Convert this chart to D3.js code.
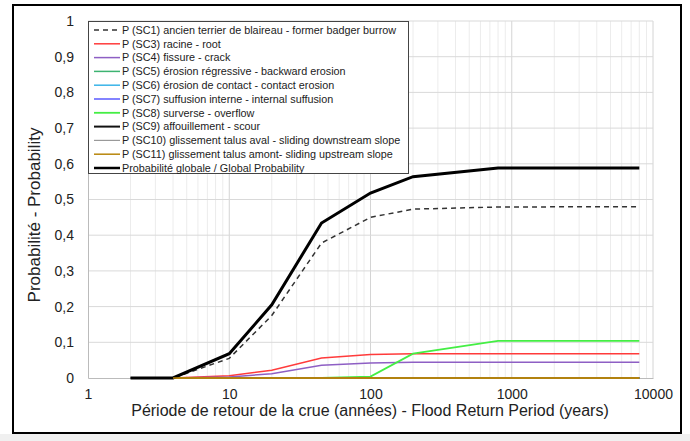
<html>
<head>
<meta charset="utf-8">
<script src="https://d3js.org/d3.v7.min.js"></script>
<style>
  body { margin: 0; background: #fff; }
  text { font-family: "Liberation Sans", Arial, sans-serif; fill: #222; }
</style>
</head>
<body>
<svg width="690" height="441"></svg>
<script>
// flood return periods (years)
var periods = [2, 4, 10, 20, 45, 100, 200, 800, 8000];

// probabilities
var sc1  = [0, 0, 0.055, 0.175, 0.378, 0.45, 0.473, 0.479, 0.48];
var sc3  = [null, 0, 0.006, 0.022, 0.056, 0.066, 0.068, 0.068, 0.068];
var sc4  = [null, 0, 0.003, 0.012, 0.036, 0.042, 0.044, 0.044, 0.044];
var sc5  = [null, 0, 0, 0, 0, 0, 0, 0, 0];
var sc6  = [null, 0, 0, 0, 0, 0, 0, 0, 0];
var sc7  = [null, 0, 0, 0, 0, 0, 0, 0, 0];
var sc8  = [null, 0, 0, 0, 0, 0.004, 0.068, 0.104, 0.104];
var sc9  = [null, 0, 0, 0, 0, 0, 0, 0, 0];
var sc10 = [null, 0, 0, 0, 0, 0, 0, 0, 0];
var sc11 = [null, 0, 0, 0, 0, 0, 0, 0, 0];
var globalP = [0, 0, 0.068, 0.205, 0.434, 0.518, 0.564, 0.588, 0.588];

var labels = [
  "P (SC1) ancien terrier de blaireau - former badger burrow",
  "P (SC3) racine - root",
  "P (SC4) fissure - crack",
  "P (SC5) érosion régressive - backward erosion",
  "P (SC6) érosion de contact - contact erosion",
  "P (SC7) suffusion interne - internal suffusion",
  "P (SC8) surverse - overflow",
  "P (SC9) affouillement - scour",
  "P (SC10) glissement talus aval - sliding downstream slope",
  "P (SC11) glissement talus amont- sliding upstream slope",
  "Probabilité globale / Global Probability"
];
var values = [sc1, sc3, sc4, sc5, sc6, sc7, sc8, sc9, sc10, sc11, globalP];
var colors = ["#333", "#ff3b3b", "#8e5fc4", "#3cb371", "#3ab4e8", "#5a5aff", "#44ee44", "#111", "#999", "#b8860b", "#000"];
var widths = [1.5, 1.5, 1.5, 1.5, 1.5, 1.5, 1.8, 2, 1.2, 1.5, 3];
var dashes = ["5,4", null, null, null, null, null, null, null, null, null, null];

var svg = d3.select("svg");

// outer frame
svg.append("rect").attr("x", 0).attr("y", 434).attr("width", 690).attr("height", 7).attr("fill", "#f0f0f0");
svg.append("rect").attr("x", 13).attr("y", 5).attr("width", 668).attr("height", 428)
  .attr("fill", "#fff").attr("stroke", "#000").attr("stroke-width", 2);

var x = d3.scaleLog().domain([1, 10000]).range([88, 653]);
var y = d3.scaleLinear().domain([0, 1]).range([378, 21]);

// grid
var minor = [];
[1, 10, 100, 1000].forEach(function(d) { for (var k = 2; k <= 9; k++) minor.push(d * k); });
var grid = svg.append("g");
grid.selectAll(".vmin").data(minor).join("line")
  .attr("x1", d => x(d)).attr("x2", d => x(d)).attr("y1", y(1)).attr("y2", y(0))
  .attr("stroke", "#ececec").attr("stroke-width", 1);
grid.selectAll(".vmaj").data([10, 100, 1000, 10000]).join("line")
  .attr("x1", d => x(d)).attr("x2", d => x(d)).attr("y1", y(1)).attr("y2", y(0))
  .attr("stroke", "#d4d4d4").attr("stroke-width", 1);
grid.selectAll(".h").data(d3.range(1, 11).map(d => d / 10)).join("line")
  .attr("x1", x(1)).attr("x2", x(10000)).attr("y1", d => y(d)).attr("y2", d => y(d))
  .attr("stroke", "#d9d9d9").attr("stroke-width", 1);

// axes
var fmt = function(d) { return String(+d.toFixed(1)).replace(".", ","); };
var yAxis = svg.append("g").attr("transform", "translate(" + x(1) + ",0)")
  .call(d3.axisLeft(y).tickValues(d3.range(0, 11).map(d => d / 10)).tickSize(0).tickPadding(14).tickFormat(fmt));
var xAxis = svg.append("g").attr("transform", "translate(0," + y(0) + ")")
  .call(d3.axisBottom(x).tickValues([1, 10, 100, 1000, 10000]).tickSize(0).tickPadding(11).tickFormat(d3.format("d")));
[yAxis, xAxis].forEach(function(a) {
  a.select(".domain").attr("stroke", "#bbb");
  a.selectAll("text").attr("font-size", "14px").attr("font-family", "Liberation Sans, Arial, sans-serif").attr("fill", "#222");
});

// lines
var line = d3.line()
  .defined(d => d[1] !== null)
  .x(d => x(d[0]))
  .y(d => y(d[1]));

svg.append("g").selectAll("path").data(values).join("path")
  .attr("d", function(v) { return line(v.map((p, i) => [periods[i], p])); })
  .attr("fill", "none")
  .attr("stroke", (d, i) => colors[i])
  .attr("stroke-width", (d, i) => widths[i])
  .attr("stroke-dasharray", (d, i) => dashes[i]);

// redraw the zero line in brown on top, as in the source
svg.append("path")
  .attr("d", line(sc11.map((p, i) => [periods[i], p])))
  .attr("fill", "none").attr("stroke", colors[9]).attr("stroke-width", 1.5);

// legend
var lg = svg.append("g");
lg.append("rect").attr("x", 88.5).attr("y", 21.5).attr("width", 320).attr("height", 152)
  .attr("fill", "#fff").attr("stroke", "#444").attr("stroke-width", 1);
var rows = lg.selectAll(".row").data(labels).join("g")
  .attr("transform", (d, i) => "translate(0," + (30 + i * 13.8) + ")");
rows.append("line").attr("x1", 94).attr("x2", 120).attr("y1", 0).attr("y2", 0)
  .attr("stroke", (d, i) => colors[i])
  .attr("stroke-width", (d, i) => Math.min(widths[i], 2.5))
  .attr("stroke-dasharray", (d, i) => dashes[i]);
rows.append("text").attr("x", 122).attr("y", 3.8).attr("font-size", "10.8px").attr("fill", "#222").text(d => d);

// titles
svg.append("text").attr("x", 370).attr("y", 416).attr("text-anchor", "middle")
  .attr("font-size", "16px").text("Période de retour de la crue (années) - Flood Return Period (years)");
svg.append("text").attr("transform", "translate(40,215) rotate(-90)").attr("text-anchor", "middle")
  .attr("font-size", "17px").text("Probabilité - Probability");
</script>
</body>
</html>
